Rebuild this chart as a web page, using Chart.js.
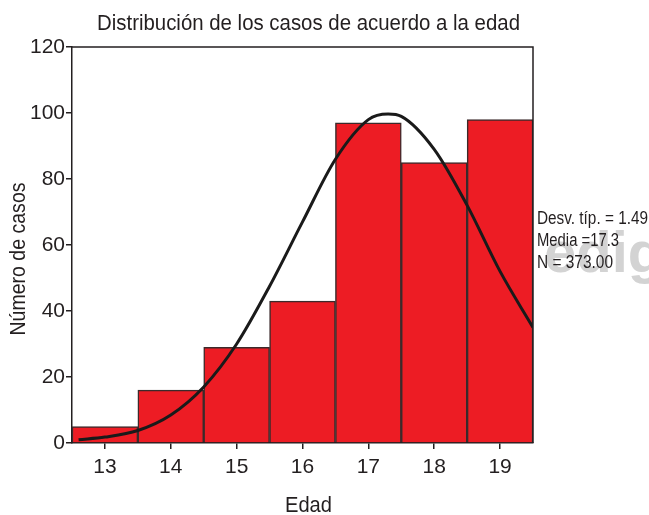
<!DOCTYPE html>
<html>
<head>
<meta charset="utf-8">
<script src="https://cdn.jsdelivr.net/npm/chart.js@4/dist/chart.umd.min.js"></script>
<style>
  html, body { margin: 0; padding: 0; background: #fff; }
  #wrap { width: 649px; height: 515px; position: relative; }
</style>
</head>
<body>
<div id="wrap"><canvas id="c" width="649" height="515"></canvas></div>
<script>
// Histogram of ages with a fitted normal curve
const edades = [13, 14, 15, 16, 17, 18, 19];
const casos = [5, 16, 29, 43, 97, 85, 98];

// Normal curve, sampled along the age axis
const curvaX = [12.6, 13, 13.5, 14, 14.5, 15, 15.5, 16, 16.5, 17, 17.3, 17.5, 18, 18.5, 19, 19.5];
const curvaY = [1, 1.8, 3.8, 8.5, 17, 30, 47.5, 67, 86, 98, 99.7, 99, 89, 72, 52, 35];

const yTicks = [0, 20, 40, 60, 80, 100, 120];
const xTicks = [13, 14, 15, 16, 17, 18, 19];

const titulo = 'Distribución de los casos de acuerdo a la edad';
const tituloX = 'Edad';
const tituloY = 'Número de casos';
const resumen = ['Desv. típ. = 1.49', 'Media =17.3', 'N = 373.00'];
const marcaAgua = 'edig';

const FONT = '"Liberation Sans", Arial, sans-serif';
const INK = '#231f20';

// draws text squeezed horizontally so it spans the given width
function textoAjustado(ctx, txt, x, y, size, ancho, align) {
  ctx.save();
  ctx.font = size + 'px ' + FONT;
  const w = ctx.measureText(txt).width;
  const k = ancho / w;
  ctx.textAlign = 'left';
  ctx.textBaseline = 'middle';
  let x0 = x;
  if (align === 'center') x0 = x - ancho / 2;
  ctx.translate(x0, y);
  ctx.scale(k, 1);
  ctx.fillText(txt, 0, 0);
  ctx.restore();
}

const textos = {
  id: 'textos',
  beforeDraw(chart) {
    const ctx = chart.ctx;
    const a = chart.chartArea;
    ctx.save();
    ctx.fillStyle = '#fff';
    ctx.fillRect(0, 0, chart.width, chart.height);
    // light grey lettering behind the summary
    ctx.beginPath();
    ctx.rect(a.right + 3, 0, chart.width, chart.height);
    ctx.clip();
    ctx.fillStyle = '#d3d3d3';
    ctx.font = 'bold 58px ' + FONT;
    ctx.textBaseline = 'alphabetic';
    ctx.textAlign = 'left';
    ctx.fillText(marcaAgua, 544, 272);
    ctx.restore();
  },
  afterDraw(chart) {
    const ctx = chart.ctx;
    const a = chart.chartArea;
    ctx.save();
    // frame: top and right sides of the plot area
    ctx.strokeStyle = INK;
    ctx.lineWidth = 1.5;
    ctx.beginPath();
    ctx.moveTo(a.left, a.top);
    ctx.lineTo(a.right, a.top);
    ctx.lineTo(a.right, a.bottom);
    ctx.stroke();

    ctx.fillStyle = INK;
    textoAjustado(ctx, titulo, 308.5, 24, 22, 423, 'center');
    textoAjustado(ctx, tituloX, 308.5, 506, 22, 47, 'center');

    ctx.save();
    ctx.translate(19, (a.top + a.bottom) / 2 + 14);
    ctx.rotate(-Math.PI / 2);
    textoAjustado(ctx, tituloY, 0, 0, 22, 153, 'center');
    ctx.restore();

    textoAjustado(ctx, resumen[0], 537, 219, 18, 111, 'left');
    textoAjustado(ctx, resumen[1], 537, 241, 18, 82, 'left');
    textoAjustado(ctx, resumen[2], 537, 263, 18, 76, 'left');
    ctx.restore();
  }
};

new Chart(document.getElementById('c'), {
  data: {
    datasets: [
      {
        type: 'line',
        data: curvaX.map((x, i) => ({ x: x, y: curvaY[i] })),
        borderColor: '#1a1a1a',
        borderWidth: 3,
        pointRadius: 0,
        cubicInterpolationMode: 'monotone',
        fill: false,
        order: 0
      },
      {
        type: 'bar',
        data: edades.map((x, i) => ({ x: x, y: casos[i] })),
        backgroundColor: '#ed1c24',
        borderColor: '#3b2a2b',
        borderWidth: 1.5,
        barPercentage: 1,
        categoryPercentage: 1,
        order: 1
      }
    ]
  },
  options: {
    responsive: false,
    animation: false,
    layout: { padding: { top: 47, right: 116, left: 0, bottom: 0 } },
    plugins: { legend: { display: false }, tooltip: { enabled: false }, title: { display: false } },
    scales: {
      x: {
        type: 'linear',
        offset: false,
        min: 12.5,
        max: 19.5,
        afterBuildTicks: s => { s.ticks = xTicks.map(v => ({ value: v })); },
        afterFit: s => { s.height = 72; },
        grid: { offset: false, drawOnChartArea: false, tickLength: 6, color: INK, lineWidth: 1.5 },
        border: { color: INK, width: 1.5 },
        ticks: { color: INK, font: { family: FONT, size: 21 }, padding: 6, maxRotation: 0 }
      },
      y: {
        min: 0,
        max: 120,
        afterBuildTicks: s => { s.ticks = yTicks.map(v => ({ value: v })); },
        afterFit: s => { s.width = 72; },
        grid: { drawOnChartArea: false, tickLength: 6, color: INK, lineWidth: 1.5 },
        border: { color: INK, width: 1.5 },
        ticks: { color: INK, font: { family: FONT, size: 21 }, padding: 1 }
      }
    }
  },
  plugins: [textos]
});
</script>
</body>
</html>
